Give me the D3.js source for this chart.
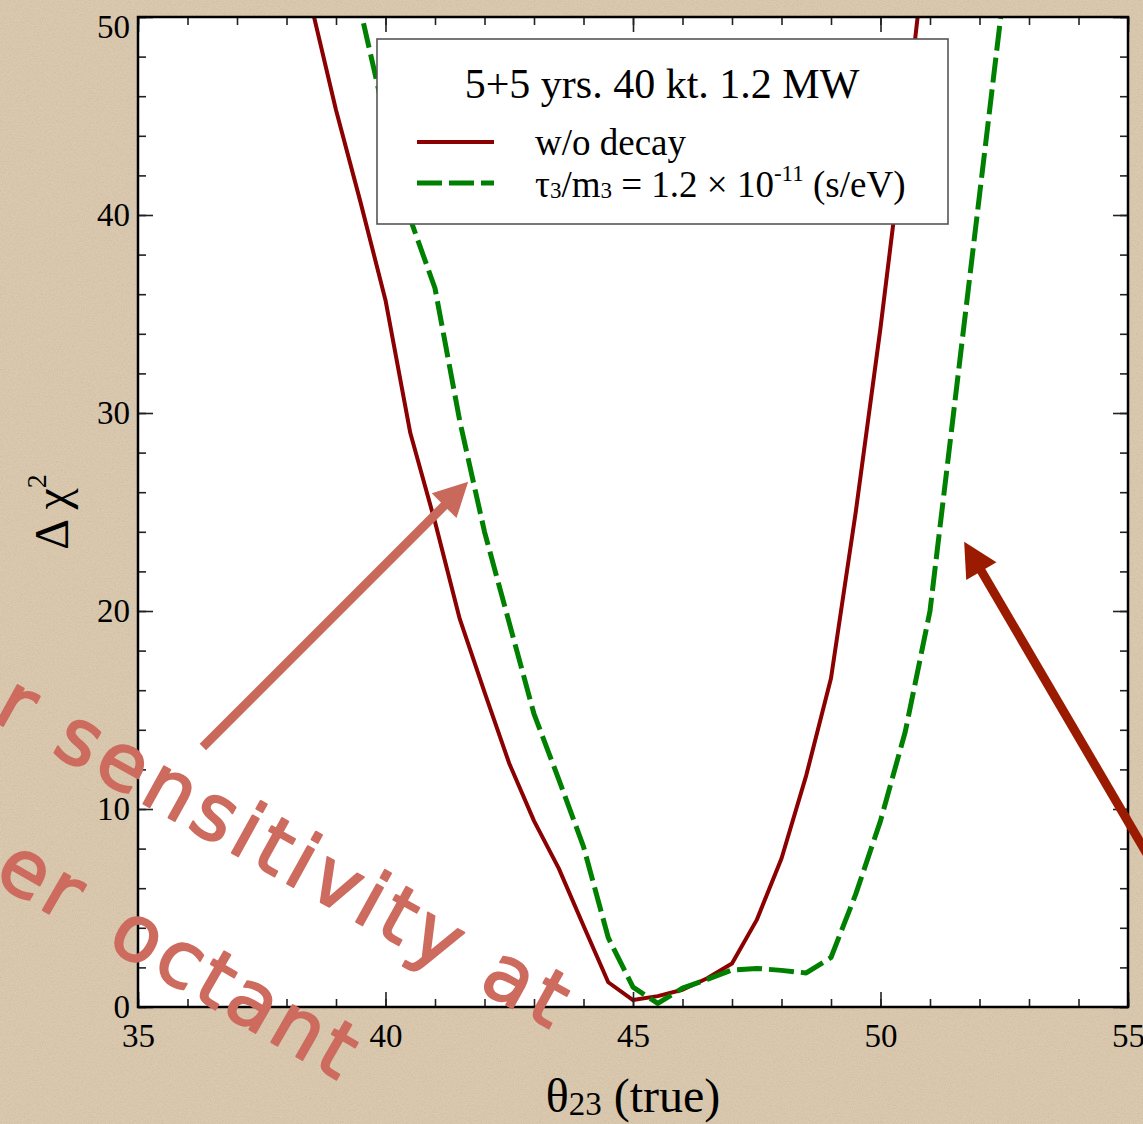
<!DOCTYPE html>
<html><head><meta charset="utf-8">
<script src="https://cdn.jsdelivr.net/npm/d3@7"></script>
<style>html,body{margin:0;padding:0;overflow:hidden;background:#d9c8ac}</style>
</head><body>
<svg id="chart" width="1143" height="1124"></svg>
<script>
// ---------- data ----------
const redTheta = [38,38.5,39,39.5,40,40.5,41,41.5,42,42.5,43,43.5,44,44.5,45,45.5,46,46.5,47,47.5,48,48.5,49,49.5,50,50.5,51];
const redChi2  = [56.2,50.6,45.3,40.6,35.7,29.0,24.5,19.6,15.9,12.3,9.4,7.0,4.1,1.25,0.35,0.55,0.87,1.45,2.2,4.4,7.5,11.7,16.6,25.0,34.3,44.5,55.5];
const greenTheta = [39,39.5,40,40.5,41,41.5,42,42.5,43,43.5,44,44.5,45,45.5,46,46.5,47,47.5,48,48.5,49,49.5,50,50.5,51,51.5,52,52.5];
const greenChi2  = [56,50.3,44.8,39.8,36.3,29.6,24.0,19.4,14.8,11.5,8.1,3.5,1.0,0.18,0.95,1.4,1.87,1.95,1.85,1.72,2.5,5.7,9.4,13.9,20.0,30.5,41.0,51.5];
const xMajorTicks = [35,40,45,50,55];
const xMinorTicks = d3.range(35,56,1);
const yMajorTicks = [0,10,20,30,40,50];
const yMinorTicks = d3.range(0,51,2);
const legendTitle = "5+5 yrs. 40 kt. 1.2 MW";
const seriesNames = ["w/o decay", "τ3/m3 = 1.2 × 10-11 (s/eV)"];
const annoLine1 = "r sensitivity at";
const annoLine2 = "er octant";
// arrows in data coordinates
const arrows = [
  {tail:[36.31,13.13], tip:[41.67,26.53], color:"#c8695c"},
  {tail:[56.45,3.18], tip:[51.69,23.5], color:"#9b1b00"}
];

// ---------- setup ----------
const W = 1143, H = 1124;
const serif = "'Times New Roman', 'Liberation Serif', 'DejaVu Serif', serif";
const svg = d3.select("#chart");
const x = d3.scaleLinear().domain([35,55]).range([138,1128]);
const y = d3.scaleLinear().domain([0,50]).range([1007,17]);

const defs = svg.append("defs");
const f = defs.append("filter").attr("id","paper").attr("x",0).attr("y",0).attr("width","100%").attr("height","100%");
f.append("feTurbulence").attr("type","fractalNoise").attr("baseFrequency",0.75).attr("numOctaves",3).attr("seed",7);
f.append("feColorMatrix").attr("type","matrix")
 .attr("values","0 0 0 0 0.42  0 0 0 0 0.34  0 0 0 0 0.22  0.9 0 0 0 -0.32");
defs.append("clipPath").attr("id","plotclip").append("rect")
  .attr("x",x(35)).attr("y",y(50)).attr("width",x(55)-x(35)).attr("height",y(0)-y(50));

// background
svg.append("rect").attr("width",W).attr("height",H).attr("fill","#dbcab0");
svg.append("rect").attr("width",W).attr("height",H).attr("filter","url(#paper)").attr("opacity",0.6);

// plot area
svg.append("rect").attr("x",x(35)).attr("y",y(50)).attr("width",x(55)-x(35)).attr("height",y(0)-y(50)).attr("fill","#fff");

// curves
const line = d3.line().x(d=>x(d[0])).y(d=>y(d[1]));
const curves = svg.append("g").attr("clip-path","url(#plotclip)");
curves.append("path").datum(redTheta.map((t,i)=>[t,redChi2[i]]))
  .attr("d",line).attr("fill","none").attr("stroke","#8b0000").attr("stroke-width",4).attr("stroke-linejoin","round");
curves.append("path").datum(greenTheta.map((t,i)=>[t,greenChi2[i]]))
  .attr("d",line).attr("fill","none").attr("stroke","#008000").attr("stroke-width",5)
  .attr("stroke-dasharray","25,7").attr("stroke-linejoin","round");

// axes
function styleAxis(g){
  g.select(".domain").remove();
  g.selectAll(".tick line").attr("stroke","#222").attr("stroke-width",1.6);
  g.selectAll(".tick text").attr("font-family",serif).attr("font-size",33).attr("fill","#000");
}
const noLab = ()=>"";
svg.append("g").attr("transform",`translate(0,${y(0)})`).call(d3.axisBottom(x).tickValues(xMinorTicks).tickSize(-8).tickFormat(noLab)).call(styleAxis);
svg.append("g").attr("transform",`translate(0,${y(0)})`).call(d3.axisBottom(x).tickValues(xMajorTicks).tickSize(-15).tickPadding(17).tickFormat(d3.format("d"))).call(styleAxis);
svg.append("g").attr("transform",`translate(0,${y(50)})`).call(d3.axisTop(x).tickValues(xMinorTicks).tickSize(-8).tickFormat(noLab)).call(styleAxis);
svg.append("g").attr("transform",`translate(0,${y(50)})`).call(d3.axisTop(x).tickValues(xMajorTicks).tickSize(-15).tickFormat(noLab)).call(styleAxis);
svg.append("g").attr("transform",`translate(${x(35)},0)`).call(d3.axisLeft(y).tickValues(yMinorTicks).tickSize(-8).tickFormat(noLab)).call(styleAxis);
const yl = svg.append("g").attr("transform",`translate(${x(35)},0)`).call(d3.axisLeft(y).tickValues(yMajorTicks).tickSize(-15).tickPadding(8).tickFormat(d3.format("d"))).call(styleAxis);
yl.selectAll(".tick text").filter(d=>d===50).attr("dy","0.62em");
svg.append("g").attr("transform",`translate(${x(55)},0)`).call(d3.axisRight(y).tickValues(yMinorTicks).tickSize(-8).tickFormat(noLab)).call(styleAxis);
svg.append("g").attr("transform",`translate(${x(55)},0)`).call(d3.axisRight(y).tickValues(yMajorTicks).tickSize(-15).tickFormat(noLab)).call(styleAxis);

// frame
svg.append("rect").attr("x",x(35)).attr("y",y(50)).attr("width",x(55)-x(35)).attr("height",y(0)-y(50))
  .attr("fill","none").attr("stroke","#000").attr("stroke-width",2.5);

// legend
const lg = svg.append("g");
lg.append("rect").attr("x",377).attr("y",39).attr("width",571).attr("height",185)
  .attr("fill","#fff").attr("stroke","#555").attr("stroke-width",1.6);
lg.append("text").attr("x",662).attr("y",98).attr("text-anchor","middle")
  .attr("font-family",serif).attr("font-size",42).text(legendTitle);
lg.append("line").attr("x1",417).attr("x2",494).attr("y1",142).attr("y2",142).attr("stroke","#8b0000").attr("stroke-width",4);
lg.append("line").attr("x1",417).attr("x2",494).attr("y1",183).attr("y2",183).attr("stroke","#008000").attr("stroke-width",5).attr("stroke-dasharray","25,7");
lg.append("text").attr("x",535).attr("y",155).attr("font-family",serif).attr("font-size",37).text(seriesNames[0]);
const t2 = lg.append("text").attr("x",535).attr("y",197).attr("font-family",serif).attr("font-size",37);
t2.append("tspan").text("τ");
t2.append("tspan").attr("font-size",23).attr("dy",1).text("3");
t2.append("tspan").attr("dy",-1).text("/m");
t2.append("tspan").attr("font-size",23).attr("dy",1).text("3");
t2.append("tspan").attr("dy",-1).text(" = 1.2 × 10");
t2.append("tspan").attr("font-size",23).attr("dy",-16).text("-11");
t2.append("tspan").attr("dy",16).text(" (s/eV)");

// axis titles
const xt = svg.append("text").attr("x",633).attr("y",1112).attr("text-anchor","middle")
  .attr("font-family",serif).attr("font-size",48);
xt.append("tspan").text("θ");
xt.append("tspan").attr("font-size",33).attr("dy",3).text("23");
xt.append("tspan").attr("dy",-3).text(" (true)");
const ytl = svg.append("text").attr("transform","translate(68,512) rotate(-90)").attr("text-anchor","middle")
  .attr("font-family",serif).attr("font-size",48);
ytl.append("tspan").text("Δ χ");
ytl.append("tspan").attr("font-size",28).attr("dy",-22).text("2");

// annotation arrows
arrows.forEach(a=>{
  const tx=x(a.tail[0]), ty=y(a.tail[1]), px=x(a.tip[0]), py=y(a.tip[1]);
  const dx=px-tx, dy=py-ty, L=Math.hypot(dx,dy), ux=dx/L, uy=dy/L, nx=-uy, ny=ux;
  const hl=34, hw=17.5;
  const bx=px-ux*hl, by=py-uy*hl;
  svg.append("line").attr("x1",tx).attr("y1",ty).attr("x2",bx+ux*2).attr("y2",by+uy*2)
    .attr("stroke",a.color).attr("stroke-width",9);
  svg.append("path").attr("d",`M${px},${py}L${bx+nx*hw},${by+ny*hw}L${bx-nx*hw},${by-ny*hw}Z`).attr("fill",a.color);
});

// annotation text
const anno = (str, idx, ax, ay, rot, ls, ws) => {
  const g = svg.append("g").attr("transform",`translate(${ax},${ay}) rotate(${rot})`);
  const t = g.append("text").attr("x",0).attr("y",0)
    .attr("font-family","'Comic Sans MS','Chalkboard','DejaVu Sans',sans-serif")
    .attr("font-size",78).attr("letter-spacing",ls).attr("word-spacing",ws).attr("fill","#cd6b5f")
    .attr("stroke","#cd6b5f").attr("stroke-width",2).attr("stroke-linejoin","round")
    .style("white-space","pre").text(str);
  const p = t.node().getStartPositionOfChar(idx);
  t.attr("x",-p.x);
};
anno(annoLine1, 2, 50, 752, 29, 5.5, 0);
anno(annoLine2, 3, 105, 946, 30, 4, 14);
</script>
</body></html>
